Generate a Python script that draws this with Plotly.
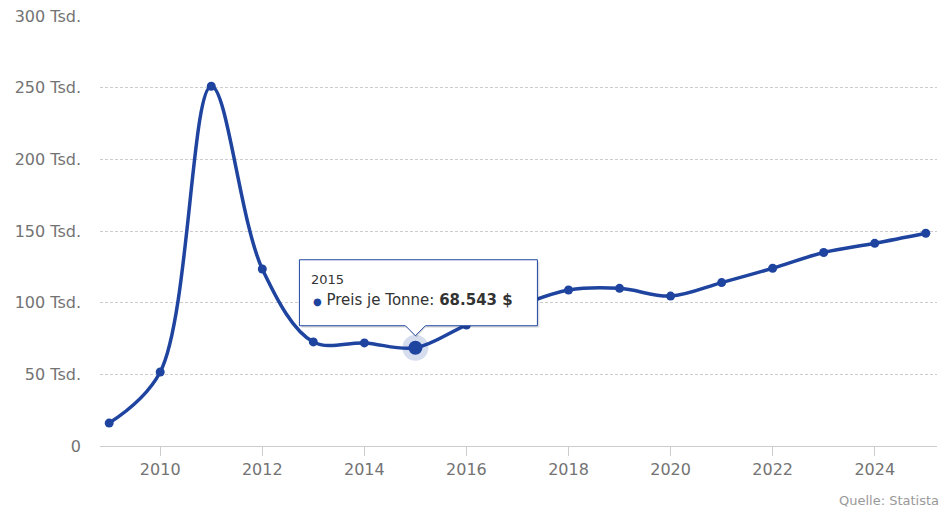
import plotly.graph_objects as go

years = list(range(2009, 2026))
prices = [16000, 51600, 251000, 123500, 72600, 71900, 68543, 84400, 97500,
          108800, 110000, 104600, 114000, 124000, 135000, 141400, 148400]
ytick_vals = [0, 50000, 100000, 150000, 200000, 250000, 300000]
ytick_text = ["0", "50 Tsd.", "100 Tsd.", "150 Tsd.", "200 Tsd.", "250 Tsd.", "300 Tsd."]
xtick_vals = [2010, 2012, 2014, 2016, 2018, 2020, 2022, 2024]
hl_year = 2015
hl_value = 68543
series_name = "Preis je Tonne"

BLUE = "#1e44a0"
FONT = "DejaVu Sans"
TICK = "#737373"

fig = go.Figure()
fig.add_trace(go.Scatter(
    x=years, y=prices, mode="lines+markers",
    line=dict(color=BLUE, width=3.5, shape="spline", smoothing=1),
    marker=dict(color=BLUE, size=9),
    hoverinfo="skip", showlegend=False,
))
# highlighted point halo + marker
fig.add_trace(go.Scatter(
    x=[hl_year], y=[hl_value], mode="markers",
    marker=dict(color="rgba(30,68,160,0.18)", size=26),
    hoverinfo="skip", showlegend=False,
))
fig.add_trace(go.Scatter(
    x=[hl_year], y=[hl_value], mode="markers",
    marker=dict(color=BLUE, size=14),
    hoverinfo="skip", showlegend=False,
))

# tooltip box with pointer (pixel-sized path anchored at the point)
fig.add_shape(
    type="path", xref="x", yref="y", xsizemode="pixel", ysizemode="pixel",
    xanchor=hl_year, yanchor=hl_value,
    path="M -114 20 L -8 20 L 1 10 L 10 20 L 124 20 L 124 86 L -114 86 Z",
    fillcolor="rgba(0,0,0,0.12)", line=dict(width=0), layer="above",
)
fig.add_shape(
    type="path", xref="x", yref="y", xsizemode="pixel", ysizemode="pixel",
    xanchor=hl_year, yanchor=hl_value,
    path="M -116 22 L -10 22 L 0 12 L 10 22 L 122 22 L 122 88 L -116 88 Z",
    fillcolor="white", line=dict(color=BLUE, width=1), layer="above",
)
fig.add_annotation(
    x=hl_year, y=hl_value, xref="x", yref="y", showarrow=False,
    xanchor="left", yanchor="middle", xshift=-106, yshift=68,
    text=str(hl_year), font=dict(family=FONT, size=13, color="#333333"),
)
fig.add_annotation(
    x=hl_year, y=hl_value, xref="x", yref="y", showarrow=False,
    xanchor="left", yanchor="middle", xshift=-104, yshift=48,
    text=f"<span style='color:{BLUE};font-size:10px'>●</span> {series_name}: <b>68.543 $</b>",
    font=dict(family=FONT, size=15, color="#333333"),
)

fig.add_annotation(
    x=1, y=0, xref="paper", yref="paper", xanchor="right", yanchor="middle",
    yshift=-54, xshift=4, showarrow=False, text="Quelle: Statista",
    font=dict(family=FONT, size=13, color="#999999"),
)

fig.update_layout(
    width=943, height=511,
    margin=dict(l=100, r=6, t=16, b=65),
    paper_bgcolor="white", plot_bgcolor="white",
    font=dict(family=FONT, color=TICK),
    xaxis=dict(
        range=[2008.82, 2025.22], tickvals=xtick_vals,
        showgrid=False, showline=True, linecolor="#cccccc", linewidth=1,
        ticks="outside", ticklen=9, tickcolor="#cccccc",
        tickfont=dict(family=FONT, size=16, color=TICK),
        zeroline=False,
    ),
    yaxis=dict(
        range=[0, 300000], tickvals=ytick_vals, ticktext=ytick_text,
        showgrid=True, gridcolor="#cccccc", griddash="3px,2px", gridwidth=1,
        zeroline=False, ticklabelstandoff=18,
        tickfont=dict(family=FONT, size=16, color=TICK),
    ),
)

fig.write_html("out.html")
